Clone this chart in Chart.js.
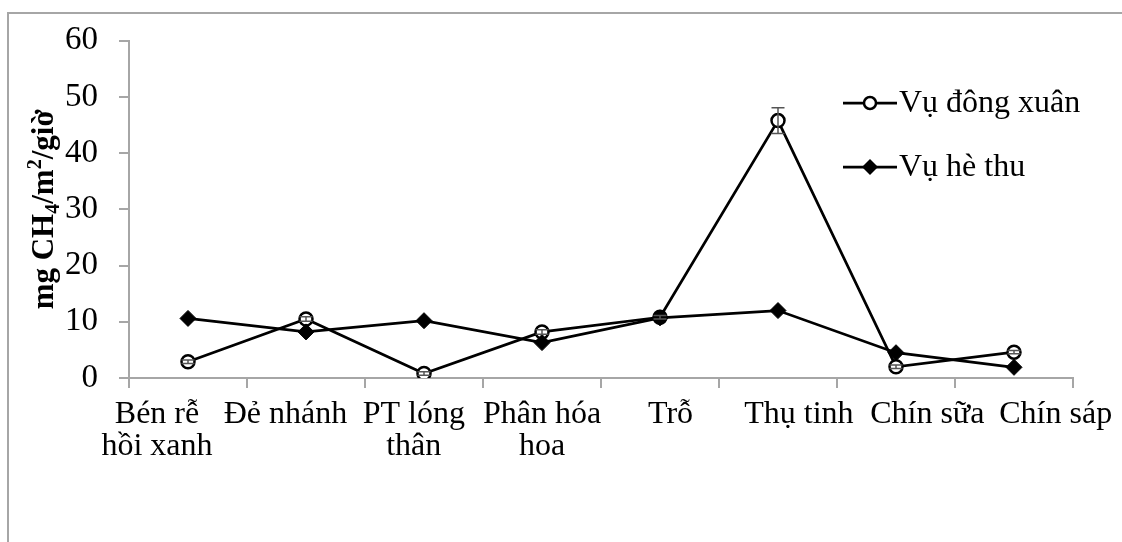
<!DOCTYPE html>
<html>
<head>
<meta charset="utf-8">
<script src="https://cdn.jsdelivr.net/npm/chart.js@4/dist/chart.umd.min.js"></script>
<style>
  html, body { margin: 0; padding: 0; background: #fff; }
  #wrap { width: 1122px; height: 542px; position: relative; }
</style>
</head>
<body>
<div id="wrap"><canvas id="c" width="1122" height="542"></canvas></div>
<script>
// Growth stages (x categories)
const categories = [['Bén rễ', 'hồi xanh'], 'Đẻ nhánh', ['PT lóng', 'thân'], ['Phân hóa', 'hoa'], 'Trỗ', 'Thụ tinh', 'Chín sữa', 'Chín sáp'];
// CH4 emission, mg CH4/m2/giờ
const dongXuan = [2.9, 10.5, 0.8, 8.2, 10.8, 45.8, 2.0, 4.6];
const dongXuanErr = [0.3, 0.4, 0.3, 0.4, 0.3, 2.3, 0.3, 0.3];
const heThu = [10.6, 8.2, 10.2, 6.3, 10.7, 12.0, 4.5, 1.9];
const seriesNames = ['Vụ đông xuân', 'Vụ hè thu'];
const yMin = 0, yMax = 60, yStep = 10;

const SERIF = '"Liberation Serif", "Times New Roman", serif';
const GRAY = '#a6a6a6';

// Outer frame, error bars, category labels, y title and legend
const decor = {
  id: 'decor',
  beforeDraw(chart) {
    const ctx = chart.ctx;
    ctx.save();
    ctx.strokeStyle = GRAY;
    ctx.lineWidth = 2;
    ctx.beginPath();
    ctx.moveTo(8, 542);
    ctx.lineTo(8, 13);
    ctx.lineTo(1122, 13);
    ctx.stroke();
    ctx.restore();
  },
  afterDatasetsDraw(chart) {
    const ctx = chart.ctx;
    const xs = chart.scales.x, ys = chart.scales.y;
    ctx.save();
    ctx.strokeStyle = '#555';
    ctx.lineWidth = 1.5;
    dongXuan.forEach((v, i) => {
      const x = xs.getPixelForValue(i);
      const yt = ys.getPixelForValue(v + dongXuanErr[i]);
      const yb = ys.getPixelForValue(v - dongXuanErr[i]);
      ctx.beginPath();
      ctx.moveTo(x, yt); ctx.lineTo(x, yb);
      ctx.moveTo(x - 6.5, yt); ctx.lineTo(x + 6.5, yt);
      ctx.moveTo(x - 6.5, yb); ctx.lineTo(x + 6.5, yb);
      ctx.stroke();
    });
    ctx.restore();
  },
  afterDraw(chart) {
    const ctx = chart.ctx;
    const area = chart.chartArea;
    const xs = chart.scales.x;

    // Category labels: spread a little wider than the category slots
    ctx.save();
    ctx.font = '32px ' + SERIF;
    ctx.fillStyle = '#000';
    ctx.textAlign = 'center';
    ctx.textBaseline = 'alphabetic';
    const x0 = xs.getPixelForValue(0);
    const slot = xs.getPixelForValue(1) - x0;
    categories.forEach((lab, i) => {
      const cx = x0 - 31 + i * slot * 1.088;
      const lines = Array.isArray(lab) ? lab : [lab];
      lines.forEach((ln, k) => ctx.fillText(ln, cx, 423 + k * 32));
    });
    ctx.restore();

    // Y axis title with sub/superscripts
    ctx.save();
    ctx.translate(43, (area.top + area.bottom) / 2);
    ctx.rotate(-Math.PI / 2);
    ctx.fillStyle = '#000';
    ctx.textBaseline = 'alphabetic';
    const big = 'bold 31px ' + SERIF, small = 'bold 20px ' + SERIF;
    const parts = [
      { t: 'mg CH', f: big, dy: 0 },
      { t: '4', f: small, dy: 6 },
      { t: '/m', f: big, dy: 0 },
      { t: '2', f: small, dy: -12 },
      { t: '/giờ', f: big, dy: 0 }
    ];
    let total = 0;
    parts.forEach(p => { ctx.font = p.f; p.w = ctx.measureText(p.t).width; total += p.w; });
    let x = -total / 2;
    parts.forEach(p => {
      ctx.font = p.f;
      ctx.fillText(p.t, x, 10 + p.dy);
      x += p.w;
    });
    ctx.restore();

    // Legend
    ctx.save();
    ctx.font = '32px ' + SERIF;
    ctx.textBaseline = 'middle';
    ctx.fillStyle = '#000';
    const rows = [103, 167];
    rows.forEach((y, i) => {
      ctx.strokeStyle = '#000';
      ctx.lineWidth = 2.75;
      ctx.beginPath();
      ctx.moveTo(843, y); ctx.lineTo(897, y);
      ctx.stroke();
      if (i === 0) {
        ctx.beginPath();
        ctx.arc(870, y, 6, 0, Math.PI * 2);
        ctx.fillStyle = '#fff';
        ctx.fill();
        ctx.lineWidth = 2.5;
        ctx.stroke();
      } else {
        ctx.beginPath();
        ctx.moveTo(870, y - 8); ctx.lineTo(878, y); ctx.lineTo(870, y + 8); ctx.lineTo(862, y);
        ctx.closePath();
        ctx.fillStyle = '#000';
        ctx.fill();
      }
      ctx.fillStyle = '#000';
      ctx.fillText(seriesNames[i], 899, y + 1);
    });
    ctx.restore();
  }
};

new Chart(document.getElementById('c'), {
  type: 'line',
  data: {
    labels: categories,
    datasets: [
      {
        label: seriesNames[0],
        data: dongXuan,
        borderColor: '#000',
        borderWidth: 2.75,
        pointStyle: 'circle',
        pointRadius: 6.5,
        pointBorderWidth: 2.5,
        pointBackgroundColor: '#fff',
        pointBorderColor: '#000',
        tension: 0,
        order: 1
      },
      {
        label: seriesNames[1],
        data: heThu,
        borderColor: '#000',
        borderWidth: 2.75,
        pointStyle: 'rectRot',
        pointRadius: 8,
        pointBorderWidth: 1,
        pointBackgroundColor: '#000',
        pointBorderColor: '#000',
        tension: 0,
        order: 0
      }
    ]
  },
  options: {
    responsive: false,
    animation: false,
    devicePixelRatio: 1,
    layout: { padding: { top: 40, right: 49, bottom: 0, left: 0 } },
    plugins: { legend: { display: false }, tooltip: { enabled: false } },
    scales: {
      x: {
        offset: true,
        grid: { offset: true, drawOnChartArea: false, drawTicks: true, tickLength: 10, color: GRAY, lineWidth: 2 },
        border: { color: GRAY, width: 2 },
        ticks: { display: false },
        afterFit(scale) { scale.height = 164; }
      },
      y: {
        min: yMin, max: yMax,
        grid: { drawOnChartArea: false, drawTicks: true, tickLength: 10, color: GRAY, lineWidth: 2 },
        border: { color: GRAY, width: 2 },
        ticks: { stepSize: yStep, color: '#000', font: { family: SERIF, size: 33 }, padding: 21 },
        afterFit(scale) { scale.width = 129; }
      }
    }
  },
  plugins: [decor]
});
</script>
</body>
</html>
